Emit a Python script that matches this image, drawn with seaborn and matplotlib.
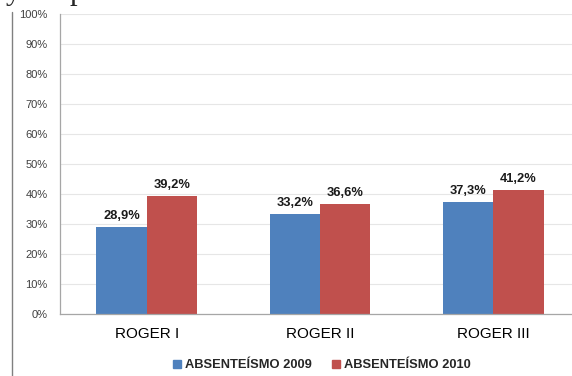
import matplotlib
matplotlib.use("Agg")
import matplotlib.pyplot as plt
from matplotlib.lines import Line2D
from matplotlib.ticker import FuncFormatter, FixedLocator
import seaborn as sns
import pandas as pd

units = ["ROGER I", "ROGER II", "ROGER III"]
series_names = ["ABSENTEÍSMO 2009", "ABSENTEÍSMO 2010"]
abs_2009 = [28.9, 33.2, 37.3]
abs_2010 = [39.2, 36.6, 41.2]
colors = ["#4F81BD", "#C0504D"]

df = pd.DataFrame({
    "unit": units * 2,
    "serie": [series_names[0]] * 3 + [series_names[1]] * 3,
    "valor": abs_2009 + abs_2010,
})

sns.set_theme(style="white")
plt.rcParams["font.family"] = ["Liberation Sans", "DejaVu Sans"]

fig = plt.figure(figsize=(5.72, 3.76), dpi=100)
ax = fig.add_axes([60 / 572, 1 - 314 / 376, 520 / 572, 300 / 376])

sns.barplot(data=df, x="unit", y="valor", hue="serie", palette=colors,
            width=0.58, saturation=1, ax=ax, legend=False, errorbar=None,
            linewidth=0)

ax.set_ylim(0, 100)
ax.set_xlim(-0.5, 2.5)
ax.set_yticks(range(0, 101, 10))
ax.yaxis.set_major_formatter(FuncFormatter(lambda v, p: f"{int(v)}%"))
ax.grid(axis="y", color="#E6E6E6", linewidth=0.8)
ax.set_axisbelow(True)
ax.set_xlabel("")
ax.set_ylabel("")

for s in ["top", "right"]:
    ax.spines[s].set_visible(False)
for s in ["left", "bottom"]:
    ax.spines[s].set_color("#A6A6A6")
    ax.spines[s].set_linewidth(0.9)

ax.tick_params(axis="y", which="major", length=5, width=0.8, color="#A6A6A6",
               direction="out", labelsize=8, labelcolor="#404040", pad=4)
ax.tick_params(axis="x", which="major", length=0, labelsize=11,
               labelcolor="#000000", pad=9)
ax.xaxis.set_minor_locator(FixedLocator([-0.5, 0.5, 1.5, 2.5]))
ax.tick_params(axis="x", which="minor", length=5, width=0.8, color="#A6A6A6",
               direction="out")

for container in ax.containers:
    ax.bar_label(container, labels=[f"{v:.1f}%".replace(".", ",") for v in container.datavalues],
                 padding=4, fontsize=9.3, fontweight="bold", color="#1A1A1A")

# bottom legend
handles = [Line2D([0], [0], marker="s", linestyle="", markersize=6,
                  markerfacecolor=c, markeredgecolor=c) for c in colors]
leg = fig.legend(handles, series_names, loc="center", bbox_to_anchor=(322 / 572, 1 - 365 / 376),
                 ncol=2, frameon=False, handlelength=0.6, handletextpad=0.3,
                 columnspacing=1.6, prop={"size": 9.3, "weight": "bold"})

# page border line on the left and clipped heading text above the chart
fig.add_artist(Line2D([12 / 572, 12 / 572], [0, 1 - 12 / 376], color="#808080", linewidth=1))
fig.text(6 / 572, 1 + 1 / 376, "y", fontsize=22, family="Liberation Serif", va="baseline")
fig.text(70 / 572, 1 + 1 / 376, "p", fontsize=22, family="Liberation Serif", va="baseline")

fig.savefig("out.png", dpi=100)
